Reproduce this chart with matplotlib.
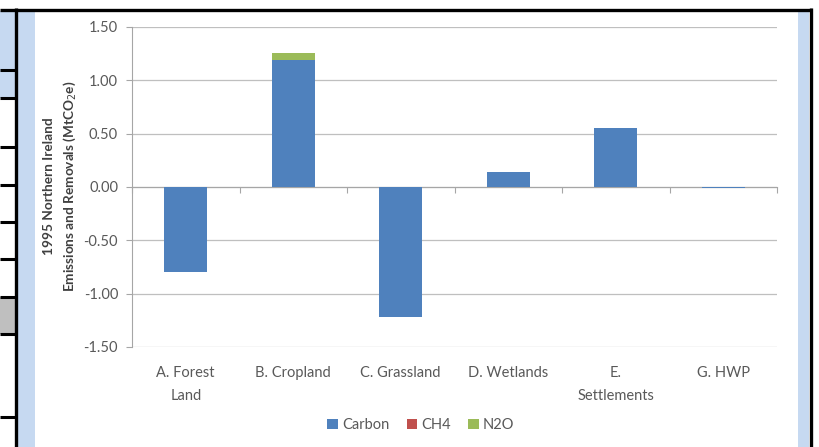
import numpy as np
import matplotlib
matplotlib.use("Agg")
import matplotlib.pyplot as plt
from matplotlib.patches import Rectangle

plt.rcParams['font.family'] = ['Lato', 'DejaVu Sans']

categories = ["A. Forest\nLand", "B. Cropland", "C. Grassland", "D. Wetlands",
              "E.\nSettlements", "G. HWP"]
carbon = [-0.80, 1.19, -1.22, 0.14, 0.55, -0.012]
ch4 = [0.0, 0.003, 0.0, 0.0, 0.0, 0.0]
n2o = [0.0, 0.06, 0.0, 0.0, 0.0, 0.0]
yticks = [-1.5, -1.0, -0.5, 0.0, 0.5, 1.0, 1.5]

W, H = 819, 447
fig = plt.figure(figsize=(W / 100, H / 100), dpi=100)

# page frame around the chart (document table borders)
bg = fig.add_axes([0, 0, 1, 1], zorder=-5)
bg.set_xlim(0, W)
bg.set_ylim(H, 0)
bg.axis('off')
blue = '#C6D9F1'
bg.add_patch(Rectangle((0, 11), 15, 87, color=blue, lw=0))
bg.add_patch(Rectangle((0, 297), 15, 37, color='#BFBFBF', lw=0))
bg.add_patch(Rectangle((17, 11), 18, H, color=blue, lw=0))
bg.add_patch(Rectangle((798, 11), 11, H, color=blue, lw=0))
for yy in [70, 98, 147, 185, 222, 259, 297, 334, 417]:
    bg.plot([0, 15], [yy, yy], color='black', lw=2.2, solid_capstyle='butt')
bg.plot([15.5, 15.5], [8, H], color='black', lw=2.4, solid_capstyle='butt')
bg.plot([810.5, 810.5], [8, H], color='black', lw=2.4, solid_capstyle='butt')
bg.plot([0, 812], [9.5, 9.5], color='black', lw=2.4, solid_capstyle='butt')

ax = fig.add_axes([132 / W, 1 - 347 / H, 645 / W, 320 / H])
x = np.arange(len(categories))
w = 0.4
carbon = np.array(carbon)
ch4 = np.array(ch4)
n2o = np.array(n2o)
pos_base = np.clip(carbon, 0, None)
ax.bar(x, carbon, w, color='#4F81BD', label='Carbon', zorder=3)
ax.bar(x, ch4, w, bottom=pos_base, color='#C0504D', label='CH4', zorder=3)
ax.bar(x, n2o, w, bottom=pos_base + ch4, color='#9BBB59', label='N2O', zorder=3)

ax.set_xlim(-0.5, len(categories) - 0.5)
ax.set_ylim(-1.5, 1.5)
ax.set_yticks(yticks)
ax.set_yticklabels([f"{v:.2f}" for v in yticks])
ax.grid(axis='y', color='#BFBFBF', lw=0.9, zorder=0)
for s in ['top', 'right']:
    ax.spines[s].set_visible(False)
ax.spines['left'].set_color('#A6A6A6')
ax.spines['bottom'].set_position(('data', 0))
ax.spines['bottom'].set_color('#A6A6A6')
ax.set_xticks(np.arange(len(categories) + 1) - 0.5)
ax.set_xticklabels([])
ax.tick_params(axis='x', length=4, color='#A6A6A6')
ax.tick_params(axis='y', length=4, color='#A6A6A6', labelsize=10.5,
               labelcolor='#595959', pad=6)

sec = ax.secondary_xaxis('bottom')
sec.set_xticks(x)
sec.set_xticklabels(categories, fontsize=10.5, color='#595959', linespacing=1.8)
sec.tick_params(length=0, pad=14)
sec.spines['bottom'].set_visible(False)

fig.text(61 / W, 1 - 186 / H,
         "1995 Northern Ireland\nEmissions and Removals (MtCO$_2$e)",
         rotation=90, ha='center', va='center', fontsize=9.8,
         fontweight='bold', color='#404040', linespacing=1.5)

fig.legend(loc='center', bbox_to_anchor=(421 / W, 1 - 425 / H), ncol=3,
           frameon=False, fontsize=10.5, handlelength=0.7, handleheight=0.7,
           handletextpad=0.3, columnspacing=1.2, labelcolor='#595959')

fig.savefig("out.png", dpi=100, facecolor='white')
